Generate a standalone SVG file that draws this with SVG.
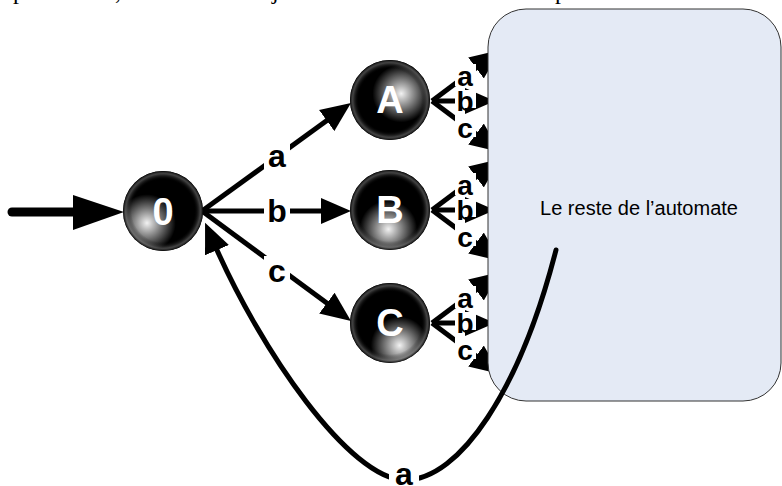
<svg xmlns="http://www.w3.org/2000/svg" width="782" height="486" viewBox="0 0 782 486">
  <style>
    .edge { fill: none; stroke: #000; stroke-width: 5; stroke-linejoin: round; }
    .lbl { font-family: "Liberation Sans", Arial, sans-serif; font-weight: bold; fill: #000; text-anchor: middle; dominant-baseline: central; }
    .big { font-size: 32px; }
    .small { font-size: 28px; }
    .bg { fill: #fff; }
    .name { font-family: "Liberation Sans", Arial, sans-serif; font-weight: bold; font-size: 38px; fill: #fff; text-anchor: middle; dominant-baseline: central; }
    .cap { font-family: "Liberation Serif", "Times New Roman", serif; font-size: 24px; fill: #000; }
  </style>
  <defs>
    <marker id="head" markerUnits="userSpaceOnUse" markerWidth="32" markerHeight="28" viewBox="0 -14 32 28" refX="10" refY="0" orient="auto">
      <path d="M0,-13 L30,0 L0,13 Z" fill="#000"/>
    </marker>
    <radialGradient id="rim" cx="0.5" cy="0.5" r="0.5">
      <stop offset="0.78" stop-color="#000" stop-opacity="0"/>
      <stop offset="0.93" stop-color="#777" stop-opacity="0.55"/>
      <stop offset="1" stop-color="#000" stop-opacity="1"/>
    </radialGradient>
    <radialGradient id="glow0" cx="0.3" cy="0.65" r="0.36">
      <stop offset="0" stop-color="#fff" stop-opacity="0.95"/>
      <stop offset="1" stop-color="#fff" stop-opacity="0"/>
    </radialGradient>
    <radialGradient id="glowA" cx="0.64" cy="0.42" r="0.36">
      <stop offset="0" stop-color="#fff" stop-opacity="0.95"/>
      <stop offset="1" stop-color="#fff" stop-opacity="0"/>
    </radialGradient>
    <radialGradient id="glowB" cx="0.48" cy="0.74" r="0.36">
      <stop offset="0" stop-color="#fff" stop-opacity="0.95"/>
      <stop offset="1" stop-color="#fff" stop-opacity="0"/>
    </radialGradient>
    <radialGradient id="glowC" cx="0.62" cy="0.78" r="0.36">
      <stop offset="0" stop-color="#fff" stop-opacity="0.95"/>
      <stop offset="1" stop-color="#fff" stop-opacity="0"/>
    </radialGradient>
  </defs>

  <rect width="782" height="486" fill="#fff"/>

  <!-- descenders of the preceding text line -->
  <g id="caption-tail">
    <text class="cap" x="13" y="-1">p</text>
    <text class="cap" x="115" y="-1">,</text>
    <text class="cap" x="272" y="-1">j</text>
    <text class="cap" x="555" y="-1">p</text>
  </g>

  <!-- transitions leaving A, B, C towards the rest of the automaton (heads run under the box) -->
  <g id="out-edges">
    <path class="edge" d="M432,101 L484,62" marker-end="url(#head)"/>
    <path class="edge" d="M432,101 L475,101" marker-end="url(#head)"/>
    <path class="edge" d="M432,101 L484,140" marker-end="url(#head)"/>
    <path class="edge" d="M432,210 L484,171" marker-end="url(#head)"/>
    <path class="edge" d="M432,210 L475,210" marker-end="url(#head)"/>
    <path class="edge" d="M432,210 L484,249" marker-end="url(#head)"/>
    <path class="edge" d="M432,323 L484,284" marker-end="url(#head)"/>
    <path class="edge" d="M432,323 L475,323" marker-end="url(#head)"/>
    <path class="edge" d="M432,323 L484,362" marker-end="url(#head)"/>
    <rect class="bg" x="455" y="64" width="21" height="22"/>
    <text class="lbl small" x="465" y="76">a</text>
    <rect class="bg" x="455" y="90" width="21" height="18"/>
    <text class="lbl small" x="465" y="101">b</text>
    <rect class="bg" x="455" y="115" width="21" height="22"/>
    <text class="lbl small" x="465" y="128">c</text>
    <rect class="bg" x="455" y="173" width="21" height="22"/>
    <text class="lbl small" x="465" y="185">a</text>
    <rect class="bg" x="455" y="199" width="21" height="18"/>
    <text class="lbl small" x="465" y="210">b</text>
    <rect class="bg" x="455" y="224" width="21" height="22"/>
    <text class="lbl small" x="465" y="237">c</text>
    <rect class="bg" x="455" y="286" width="21" height="22"/>
    <text class="lbl small" x="465" y="298">a</text>
    <rect class="bg" x="455" y="312" width="21" height="18"/>
    <text class="lbl small" x="465" y="323">b</text>
    <rect class="bg" x="455" y="337" width="21" height="22"/>
    <text class="lbl small" x="465" y="350">c</text>
  </g>

  <!-- rest of the automaton -->
  <g id="rest">
    <rect x="488" y="9" width="293" height="392" rx="38" ry="38" fill="#e4eaf5" stroke="#333" stroke-width="1"/>
    <text x="639" y="208" font-family="Liberation Sans, Arial, sans-serif" font-size="20" text-anchor="middle" dominant-baseline="central" fill="#000">Le reste de l’automate</text>
  </g>

  <!-- connectors -->
  <g id="edges">
    <!-- initial arrow -->
    <line x1="12" y1="212" x2="78" y2="212" stroke="#000" stroke-width="9" stroke-linecap="round"/>
    <polygon points="73,195 124,212 73,230" fill="#000"/>

    <path class="edge" d="M202,211 L334.8,114.7" marker-end="url(#head)"/>
    <path class="edge" d="M202,211 L331,211" marker-end="url(#head)"/>
    <path class="edge" d="M202,211 L334.9,309.1" marker-end="url(#head)"/>

    <!-- loop back from the rest of the automaton to 0 -->
    <path class="edge" stroke-linecap="round" d="M556,250 C520,390 460,480 405,480 C350,480 260,350 213,241" marker-end="url(#head)"/>

    <rect class="bg" x="264" y="141" width="26" height="30"/>
    <text class="lbl big" x="277" y="156">a</text>
    <rect class="bg" x="264" y="195" width="26" height="32"/>
    <text class="lbl big" x="277" y="211">b</text>
    <rect class="bg" x="264" y="256" width="26" height="30"/>
    <text class="lbl big" x="277" y="271">c</text>
    <rect class="bg" x="389" y="462" width="30" height="24"/>
    <text class="lbl big" x="404" y="474">a</text>
  </g>

  <!-- states -->
  <g id="node-0">
    <circle cx="163" cy="211" r="40" fill="#000"/>
    <circle cx="163" cy="211" r="40" fill="url(#glow0)"/>
    <circle cx="163" cy="211" r="40" fill="url(#rim)"/>
    <text class="name" x="163" y="212">0</text>
  </g>
  <g id="node-A">
    <circle cx="390" cy="100" r="40" fill="#000"/>
    <circle cx="390" cy="100" r="40" fill="url(#glowA)"/>
    <circle cx="390" cy="100" r="40" fill="url(#rim)"/>
    <text class="name" x="390" y="100">A</text>
  </g>
  <g id="node-B">
    <circle cx="390" cy="210" r="40" fill="#000"/>
    <circle cx="390" cy="210" r="40" fill="url(#glowB)"/>
    <circle cx="390" cy="210" r="40" fill="url(#rim)"/>
    <text class="name" x="390" y="210">B</text>
  </g>
  <g id="node-C">
    <circle cx="390" cy="323" r="40" fill="#000"/>
    <circle cx="390" cy="323" r="40" fill="url(#glowC)"/>
    <circle cx="390" cy="323" r="40" fill="url(#rim)"/>
    <text class="name" x="390" y="323">C</text>
  </g>
</svg>
